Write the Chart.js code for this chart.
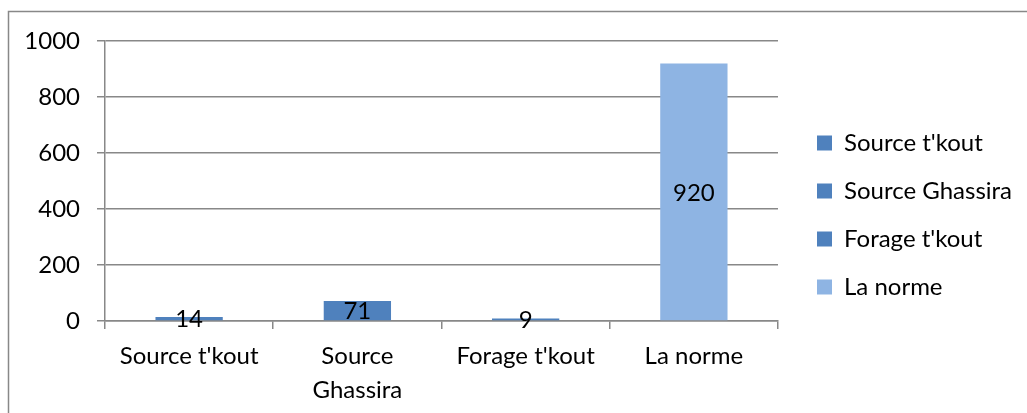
<!DOCTYPE html>
<html>
<head>
<meta charset="utf-8">
<script src="https://cdn.jsdelivr.net/npm/chart.js@4/dist/chart.umd.min.js"></script>
<style>
  html, body { margin: 0; padding: 0; background: #fff; }
  #wrap { position: relative; width: 1027px; height: 413px; }
</style>
</head>
<body>
<div id="wrap"><canvas id="c" width="1027" height="413"></canvas></div>
<script>
const categories = ["Source t'kout", "Source Ghassira", "Forage t'kout", "La norme"];
const xTickLabels = ["Source t'kout", ["Source", "Ghassira"], "Forage t'kout", "La norme"];
const values = [14, 71, 9, 920];
const barColors = ["#4F81BD", "#4F81BD", "#4F81BD", "#8EB4E3"];
const yTicks = [0, 200, 400, 600, 800, 1000];

const FONT = "Lato";
const GRID = "#888888";

const frame = {
  id: 'frame',
  beforeDraw(chart) {
    const ctx = chart.ctx;
    ctx.save();
    ctx.fillStyle = '#fff';
    ctx.fillRect(0, 0, chart.width, chart.height);
    ctx.strokeStyle = GRID;
    ctx.lineWidth = 1.5;
    ctx.strokeRect(8.5, 11.5, 1200, 600);
    ctx.restore();
  }
};

// nudge the legend column a little to the right of the plot area
const legendShift = {
  id: 'legendShift',
  afterLayout(chart) {
    const lg = chart.legend;
    if (lg) { lg.left += 15; lg.right += 15; }
  }
};

const valueLabels = {
  id: 'valueLabels',
  afterDatasetsDraw(chart) {
    const ctx = chart.ctx;
    const meta = chart.getDatasetMeta(0);
    ctx.save();
    ctx.font = "24px " + FONT;
    ctx.fillStyle = "#000";
    ctx.textAlign = "center";
    ctx.textBaseline = "middle";
    meta.data.forEach((bar, i) => {
      const p = bar.getProps(['x', 'y', 'base'], true);
      ctx.fillText(String(values[i]), p.x, (p.y + p.base) / 2 + 1);
    });
    ctx.restore();
  }
};

new Chart(document.getElementById('c'), {
  type: 'bar',
  data: {
    labels: xTickLabels,
    datasets: [{
      data: values,
      backgroundColor: barColors,
      borderWidth: 0,
      barPercentage: 0.4,
      categoryPercentage: 1.0
    }]
  },
  options: {
    responsive: false,
    animation: false,
    devicePixelRatio: 1,
    layout: { padding: { top: 41, left: 0, right: 20, bottom: 0 } },
    plugins: {
      tooltip: { enabled: false },
      legend: {
        display: true,
        position: 'right',
        align: 'start',
        title: {
          display: true,
          text: '',
          color: '#000',
          font: { size: 1, lineHeight: 1 },
          padding: { top: 65, bottom: 0 }
        },
        labels: {
          boxWidth: 15,
          boxHeight: 15,
          padding: 24,
          color: '#000',
          font: { family: FONT, size: 24 },
          generateLabels() {
            return categories.map((c, i) => ({
              text: c,
              fillStyle: barColors[i],
              strokeStyle: barColors[i],
              fontColor: '#000',
              lineWidth: 0,
              hidden: false,
              index: i
            }));
          }
        },
        onClick() {}
      }
    },
    scales: {
      x: {
        offset: true,
        grid: {
          offset: true,
          drawOnChartArea: false,
          drawTicks: true,
          tickLength: 8,
          color: GRID,
          lineWidth: 1.5
        },
        border: { display: true, color: GRID, width: 1.5 },
        ticks: {
          color: '#000',
          padding: 10,
          maxRotation: 0,
          autoSkip: false,
          font: { family: FONT, size: 24, lineHeight: 1.42 }
        },
        afterFit(scale) { scale.height = 92; }
      },
      y: {
        min: 0,
        max: 1000,
        afterBuildTicks(scale) { scale.ticks = yTicks.map(v => ({ value: v })); },
        grid: {
          drawTicks: true,
          tickLength: 8,
          color: GRID,
          lineWidth: 1.5
        },
        border: { display: true, color: GRID, width: 1.5 },
        ticks: {
          color: '#000',
          padding: 17,
          font: { family: FONT, size: 24 },
          callback: (v) => String(v)
        },
        afterFit(scale) { scale.width = 105; }
      }
    }
  },
  plugins: [frame, legendShift, valueLabels]
});
</script>
</body>
</html>
